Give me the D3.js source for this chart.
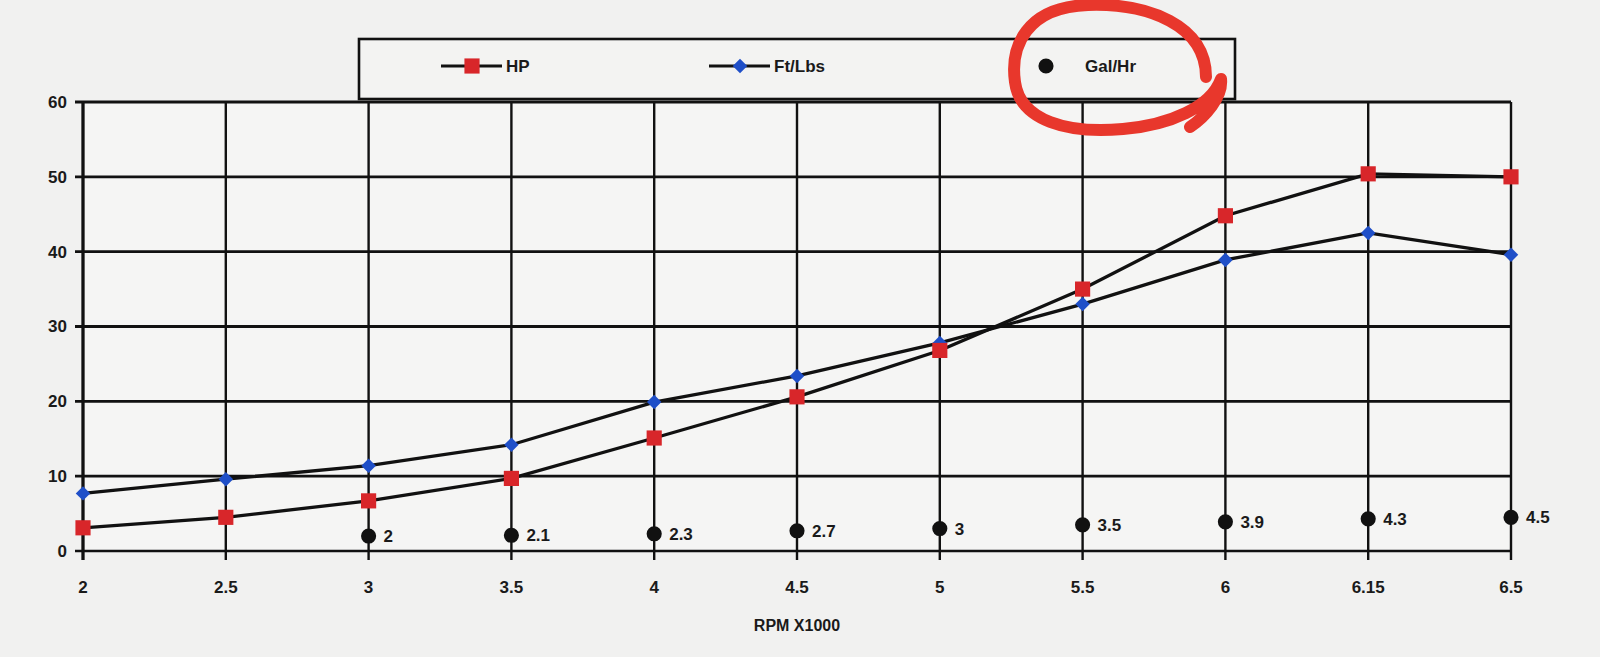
<!DOCTYPE html>
<html><head><meta charset="utf-8">
<script src="https://cdn.jsdelivr.net/npm/d3@7"></script>
<style>
html,body{margin:0;padding:0;background:#f1f1f0;}
svg{display:block;}
text{font-family:"Liberation Sans",Arial,sans-serif;font-weight:bold;fill:#1a1a1a;}
</style></head>
<body>
<svg id="c" width="1600" height="657"></svg>
<script>
const categories = ["2","2.5","3","3.5","4","4.5","5","5.5","6","6.15","6.5"];
const hp      = [3.1, 4.5, 6.7, 9.7, 15.1, 20.6, 26.8, 35.0, 44.8, 50.4, 50.0];
const ftlbs   = [7.7, 9.6, 11.4, 14.2, 19.9, 23.4, 27.8, 33.0, 38.9, 42.5, 39.6];
const galhr   = [null, null, 2, 2.1, 2.3, 2.7, 3, 3.5, 3.9, 4.3, 4.5];
const yTicks  = [0,10,20,30,40,50,60];
const seriesNames = ["HP","Ft/Lbs","Gal/Hr"];

const svg = d3.select("#c");
const W=1600,H=657;
svg.append("rect").attr("width",W).attr("height",H).attr("fill","#f1f1f0");

const x = d3.scalePoint().domain(categories).range([83,1511]);
const y = d3.scaleLinear().domain([0,60]).range([551,102]);

const g = svg.append("g");
g.append("rect").attr("x",x.range()[0]).attr("y",y(60)).attr("width",x.range()[1]-x.range()[0]).attr("height",y(0)-y(60)).attr("fill","#f5f5f4");

// horizontal grid
g.selectAll("line.h").data(yTicks).join("line").attr("class","h")
  .attr("x1",x.range()[0]-8).attr("x2",x.range()[1])
  .attr("y1",d=>y(d)).attr("y2",d=>y(d))
  .attr("stroke","#111").attr("stroke-width",d=>d===0?2.6:2.9);
// vertical grid
g.selectAll("line.v").data(categories).join("line").attr("class","v")
  .attr("x1",d=>x(d)).attr("x2",d=>x(d))
  .attr("y1",y(60)).attr("y2",y(0)+9)
  .attr("stroke","#111").attr("stroke-width",(d,i)=>i===0?3.3:2.4);

// y labels
g.selectAll("text.yl").data(yTicks).join("text").attr("class","yl")
  .attr("x",x.range()[0]-16).attr("y",d=>y(d)).attr("dy","0.35em")
  .attr("text-anchor","end").attr("font-size",17).text(d=>d);
// x labels
g.selectAll("text.xl").data(categories).join("text").attr("class","xl")
  .attr("x",d=>x(d)).attr("y",y(0)+42)
  .attr("text-anchor","middle").attr("font-size",17).text(d=>d);
// axis title
g.append("text").attr("x",(x.range()[0]+x.range()[1])/2).attr("y",y(0)+80)
  .attr("text-anchor","middle").attr("font-size",16).text("RPM X1000");

const line = d3.line().x((d,i)=>x(categories[i])).y(d=>y(d));
g.append("path").datum(ftlbs).attr("d",line).attr("fill","none").attr("stroke","#111").attr("stroke-width",3.3);
g.append("path").datum(hp).attr("d",line).attr("fill","none").attr("stroke","#111").attr("stroke-width",3.3);

const sq = d3.symbol().type(d3.symbolSquare).size(230);
const dm = d3.symbol().type(d3.symbolSquare).size(105);
const ci = d3.symbol().type(d3.symbolCircle).size(180);

g.selectAll("path.ft").data(ftlbs).join("path").attr("class","ft")
  .attr("d",dm).attr("transform",(d,i)=>`translate(${x(categories[i])},${y(d)}) rotate(45)`).attr("fill","#1f4fc8");
g.selectAll("path.hp").data(hp).join("path").attr("class","hp")
  .attr("d",sq).attr("transform",(d,i)=>`translate(${x(categories[i])},${y(d)})`).attr("fill","#d8262a");

const gal = galhr.map((v,i)=>({v,c:categories[i]})).filter(d=>d.v!==null);
g.selectAll("path.gal").data(gal).join("path").attr("class","gal")
  .attr("d",ci).attr("transform",d=>`translate(${x(d.c)},${y(d.v)})`).attr("fill","#111");
g.selectAll("text.gl").data(gal).join("text").attr("class","gl")
  .attr("x",d=>x(d.c)+15).attr("y",d=>y(d.v)).attr("dy","0.35em")
  .attr("font-size",17).text(d=>d.v);

// legend
const lg = svg.append("g");
lg.append("rect").attr("x",359).attr("y",39).attr("width",876).attr("height",60)
  .attr("fill","#f3f3f2").attr("stroke","#111").attr("stroke-width",2.6);
const legX = [441, 709, 1046];
const ly = 66;
lg.append("line").attr("x1",legX[0]).attr("x2",legX[0]+61).attr("y1",ly).attr("y2",ly).attr("stroke","#111").attr("stroke-width",3);
lg.append("path").attr("d",sq).attr("transform",`translate(${legX[0]+31},${ly})`).attr("fill","#d8262a");
lg.append("text").attr("x",legX[0]+65).attr("y",ly).attr("dy","0.35em").attr("font-size",17).text(seriesNames[0]);
lg.append("line").attr("x1",legX[1]).attr("x2",legX[1]+61).attr("y1",ly).attr("y2",ly).attr("stroke","#111").attr("stroke-width",3);
lg.append("path").attr("d",dm).attr("transform",`translate(${legX[1]+31},${ly}) rotate(45)`).attr("fill","#1f4fc8");
lg.append("text").attr("x",legX[1]+65).attr("y",ly).attr("dy","0.35em").attr("font-size",17).text(seriesNames[1]);
lg.append("path").attr("d",ci).attr("transform",`translate(${legX[2]},${ly})`).attr("fill","#111");
lg.append("text").attr("x",legX[2]+39).attr("y",ly).attr("dy","0.35em").attr("font-size",17).text(seriesNames[2]);

// hand-drawn red annotation around Gal/Hr legend entry
const cx = legX[2]+62, cy = ly+1;
const loop = d3.path();
loop.moveTo(cx+98, cy+10);
loop.bezierCurveTo(cx+98, cy-42, cx+40, cy-64, cx-20, cy-62);
loop.bezierCurveTo(cx-82, cy-60, cx-98, cy-20, cx-93, cy+15);
loop.bezierCurveTo(cx-88, cy+54, cx-40, cy+67, cx+15, cy+62);
loop.bezierCurveTo(cx+62, cy+58, cx+103, cy+40, cx+113, cy+12);
loop.bezierCurveTo(cx+115, cy+30, cx+97, cy+50, cx+82, cy+60);
svg.append("path").attr("d",loop.toString()).attr("fill","none")
  .attr("stroke","#e8372c").attr("stroke-width",12).attr("stroke-linecap","round").attr("stroke-linejoin","round");
</script>
</body></html>
